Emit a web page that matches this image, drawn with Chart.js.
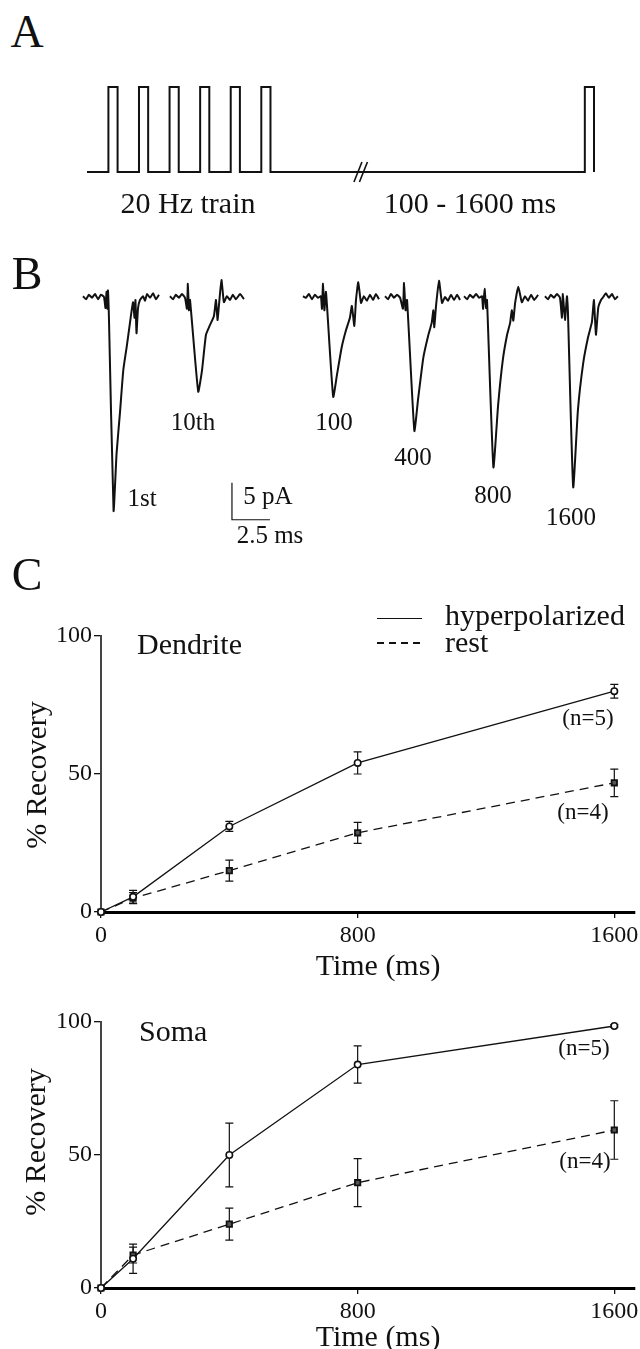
<!DOCTYPE html>
<html><head><meta charset="utf-8">
<script src="https://cdn.jsdelivr.net/npm/chart.js@4.4.1/dist/chart.umd.min.js"></script>
<style>
html,body{margin:0;padding:0;background:#fff;}
body{width:640px;height:1349px;position:relative;overflow:hidden;font-family:"Liberation Serif","Times New Roman",serif;color:#111;}
canvas{position:absolute;left:0;}
.t{position:absolute;transform:translate(-50%,-50%);white-space:nowrap;line-height:1;}
.l{position:absolute;transform:translate(0,-50%);white-space:nowrap;line-height:1;}
.r{position:absolute;transform:translate(-50%,-50%) rotate(-90deg);white-space:nowrap;line-height:1;font-size:30px;}
.big{font-size:46px;}
.f30{font-size:30px;}
.f25{font-size:25px;}
.f23{font-size:23px;}
</style></head><body>

<canvas id="cA" width="640" height="170" style="top:60px"></canvas>
<canvas id="cB" width="640" height="320" style="top:240px"></canvas>
<canvas id="cD" width="640" height="400" style="top:590px"></canvas>
<canvas id="cS" width="640" height="359" style="top:990px"></canvas>

<div class="t big" style="left:27px;top:32px">A</div>
<div class="t big" style="left:27px;top:274px">B</div>
<div class="t big" style="left:27px;top:575px">C</div>

<div class="t f30" style="left:188px;top:203px">20 Hz train</div>
<div class="t f30" style="left:470px;top:203px">100 - 1600 ms</div>

<div class="t f25" style="left:142px;top:497px">1st</div>
<div class="t f25" style="left:193px;top:421px">10th</div>
<div class="t f25" style="left:334px;top:421px">100</div>
<div class="t f25" style="left:413px;top:456px">400</div>
<div class="t f25" style="left:493px;top:494px">800</div>
<div class="t f25" style="left:571px;top:516px">1600</div>
<div class="t f25" style="left:268px;top:495px">5 pA</div>
<div class="t f25" style="left:270px;top:534px">2.5 ms</div>

<div class="l f30" style="left:137px;top:644px">Dendrite</div>
<div style="position:absolute;left:377px;top:618px;width:45px;height:0;border-top:1.5px solid #111"></div>
<div style="position:absolute;left:377px;top:642px;width:45px;height:1.5px;background:repeating-linear-gradient(90deg,#111 0 7px,transparent 7px 12px)"></div>
<div class="l f30" style="left:445px;top:615px">hyperpolarized</div>
<div class="l f30" style="left:445px;top:642px">rest</div>
<div class="r" style="left:36px;top:775px">% Recovery</div>
<div class="t f30" style="left:378px;top:965px">Time (ms)</div>
<div class="t f23" style="left:588px;top:717px">(n=5)</div>
<div class="t f23" style="left:583px;top:811px">(n=4)</div>

<div class="l f30" style="left:139px;top:1031px">Soma</div>
<div class="r" style="left:35px;top:1142px">% Recovery</div>
<div class="t f30" style="left:378px;top:1336px">Time (ms)</div>
<div class="t f23" style="left:584px;top:1047px">(n=5)</div>
<div class="t f23" style="left:585px;top:1160px">(n=4)</div>

<script>
// ---------- Panel A: stimulus protocol (schematic, ms) ----------
const trainPulseStarts = [0, 50, 100, 150, 200, 250];
const testPulseStart = 779;
const pulseWidth = 15;
const protocolStart = -35;
const gapBreakAt = 408;

// ---------- Panel B: EPSC traces (time ms, current pA) ----------
const traceStartMs = [0, 5.72, 14.47, 19.87, 25.07, 30.39];
const trace1st = [[0,0.1],[0.2,-0.3],[0.39,0.3],[0.59,-0.1],[0.79,0.4],[0.99,-0.3],[1.18,0.3],[1.38,0],[1.48,-1.5],[1.55,0.7],[1.61,-1.6],[1.64,0.9],[1.71,-3.1],[2.01,-28.9],[2.21,-21.1],[2.43,-15.7],[2.65,-9.9],[2.87,-6.8],[3.09,-3.5],[3.29,-0.7],[3.39,-2.8],[3.45,-0.4],[3.52,-4.9],[3.62,-1.5],[3.75,-0.4],[3.95,0.1],[4.08,-0.5],[4.21,0.4],[4.41,-0.1],[4.61,0.5],[4.8,-0.3],[5.0,0.3]];
const trace10th = [[0,0.1],[0.2,-0.3],[0.39,0.3],[0.59,-0.1],[0.79,0.4],[0.99,-0.1],[1.12,-1.6],[1.18,1.8],[1.25,-1.8],[1.32,-0.4],[1.86,-12.8],[2.11,-9.9],[2.37,-5.1],[2.63,-3.8],[2.89,-2.6],[3.03,-0.4],[3.13,-3.1],[3.22,-1.2],[3.39,2.3],[3.55,-0.7],[3.75,0.1],[3.95,-0.4],[4.14,0.3],[4.34,-0.3],[4.61,0.4],[4.87,-0.3]];
const trace100 = [[0,0.1],[0.2,-0.1],[0.39,0.4],[0.59,-0.3],[0.79,0.3],[0.99,-0.1],[1.18,0.1],[1.25,-1.6],[1.32,1.8],[1.41,-1.8],[1.51,0.7],[1.58,-1.1],[1.99,-13.5],[2.24,-10.5],[2.55,-6.8],[2.83,-4.5],[3.09,-2.8],[3.22,-1.2],[3.38,-3.9],[3.49,-0.4],[3.64,2.0],[3.82,-0.8],[4.01,0.1],[4.21,-0.5],[4.41,0.3],[4.61,-0.4],[4.8,0.4],[5.0,-0.3]];
const trace400 = [[0,0.1],[0.2,-0.3],[0.39,0.4],[0.59,-0.1],[0.79,0.3],[0.99,-0.1],[1.18,-1.6],[1.25,1.9],[1.35,-1.8],[1.45,-0.4],[1.93,-18.1],[2.17,-13.9],[2.52,-8.2],[2.83,-5.3],[3.07,-3.5],[3.18,-1.8],[3.24,-4.1],[3.36,-1.1],[3.55,2.2],[3.75,-0.8],[3.95,0],[4.14,-0.5],[4.34,0.3],[4.54,-0.4],[4.74,0.3],[4.93,-0.4]];
const trace800 = [[0,0.1],[0.2,-0.3],[0.39,0.3],[0.59,-0.1],[0.79,0.4],[0.99,-0.1],[1.18,0.1],[1.25,-1.6],[1.35,1.1],[1.45,-1.5],[1.51,-0.4],[1.93,-23.0],[2.24,-14.6],[2.55,-8.5],[2.83,-5.1],[3.03,-3.5],[3.14,-1.8],[3.24,-3.2],[3.36,-0.8],[3.57,1.4],[3.8,-0.7],[4.01,0.1],[4.21,-0.5],[4.41,0.3],[4.61,-0.4],[4.87,0.3]];
const trace1600 = [[0,0.1],[0.2,-0.3],[0.39,0.3],[0.59,-0.1],[0.79,0.4],[0.99,-0.1],[1.12,-2.8],[1.18,0.4],[1.32,-3.1],[1.45,0.1],[1.51,-1.8],[1.86,-25.7],[2.17,-15.3],[2.52,-8.9],[2.83,-5.5],[3.09,-3.4],[3.22,-0.4],[3.29,-2.8],[3.36,-5.1],[3.51,-1.4],[3.69,-0.4],[3.84,0],[4.01,0.5],[4.21,-0.1],[4.41,0.4],[4.61,-0.3],[4.8,0.1]];
const scaleBarOrigin = [9.8, -30.1];
const scaleBarMs = 2.5;
const scaleBarPA = 5;

// ---------- Panel C: % recovery ----------
const recoveryTimes = [0, 100, 400, 800, 1600];
const xTicks = [0, 800, 1600];
const yTicks = [0, 50, 100];
const dendriteHyper = [0, 5.5, 31, 54, 80];
const dendriteHyperErr = [0, 2.3, 1.8, 4, 2.5];
const dendriteRest = [0, 5, 15, 28.7, 46.8];
const dendriteRestErr = [0, 2, 3.8, 3.8, 5];
const somaHyper = [0, 11, 50, 84, 98.5];
const somaHyperErr = [0, 5.5, 12, 7, 0.5];
const somaRest = [0, 12.4, 24, 39.6, 59.4];
const somaRestErr = [0, 3, 6, 9, 11];

const FONT = '"Liberation Serif","Times New Roman",serif';
const INK = '#111';

// ===== Panel A =====
const protocol = [{x: protocolStart, y: 0}];
trainPulseStarts.concat([testPulseStart]).forEach(s => {
  protocol.push({x: s, y: 0}, {x: s, y: 1}, {x: s + pulseWidth, y: 1}, {x: s + pulseWidth, y: 0});
});
const breakMark = {
  id: 'breakMark',
  afterDatasetsDraw(chart) {
    const ctx = chart.ctx, xs = chart.scales.x, ys = chart.scales.y;
    const px = xs.getPixelForValue(gapBreakAt), py = ys.getPixelForValue(0);
    ctx.save(); ctx.strokeStyle = INK; ctx.lineWidth = 1.6;
    [0, 5.5].forEach(o => {
      ctx.beginPath(); ctx.moveTo(px + o - 4, py + 10); ctx.lineTo(px + o + 4, py - 10); ctx.stroke();
    });
    ctx.restore();
  }
};
new Chart(document.getElementById('cA'), {
  type: 'line',
  data: {datasets: [{data: protocol, borderColor: INK, borderWidth: 2, pointRadius: 0, tension: 0, clip: false}]},
  options: {
    responsive: false, animation: false, events: [],
    layout: {padding: {left: 87, right: 46, top: 27, bottom: 58}},
    plugins: {legend: {display: false}, tooltip: {enabled: false}},
    scales: {
      x: {type: 'linear', display: false, min: protocolStart, max: testPulseStart + pulseWidth},
      y: {display: false, min: 0, max: 1}
    }
  },
  plugins: [breakMark]
});

// ===== Panel B =====
const traces = [trace1st, trace10th, trace100, trace400, trace800, trace1600];
const bSets = traces.map((tr, k) => ({
  data: tr.map(p => ({x: p[0] + traceStartMs[k], y: p[1]})),
  borderColor: INK, borderWidth: 2, pointRadius: 0, tension: 0.15, clip: false
}));
bSets.push({
  data: [
    {x: scaleBarOrigin[0], y: scaleBarOrigin[1] + scaleBarPA},
    {x: scaleBarOrigin[0], y: scaleBarOrigin[1]},
    {x: scaleBarOrigin[0] + scaleBarMs, y: scaleBarOrigin[1]}
  ],
  borderColor: INK, borderWidth: 1.2, pointRadius: 0, tension: 0, clip: false
});
new Chart(document.getElementById('cB'), {
  type: 'line',
  data: {datasets: bSets},
  options: {
    responsive: false, animation: false, events: [],
    layout: {padding: {left: 83, right: 9.8, top: 27.4, bottom: 26.2}},
    plugins: {legend: {display: false}, tooltip: {enabled: false}},
    scales: {
      x: {type: 'linear', display: false, min: 0, max: 36},
      y: {display: false, min: -32, max: 4}
    }
  }
});

// ===== Panel C =====
const errorBars = {
  id: 'errorBars',
  beforeDatasetsDraw(chart) {
    const ctx = chart.ctx, xs = chart.scales.x, ys = chart.scales.y;
    ctx.save(); ctx.strokeStyle = INK; ctx.lineWidth = 1.2;
    chart.data.datasets.forEach(ds => {
      ds.data.forEach((p, i) => {
        const e = ds.err[i]; if (!e) return;
        const px = xs.getPixelForValue(p.x), t = ys.getPixelForValue(p.y + e), b = ys.getPixelForValue(p.y - e);
        ctx.beginPath();
        ctx.moveTo(px, t); ctx.lineTo(px, b);
        ctx.moveTo(px - 4, t); ctx.lineTo(px + 4, t);
        ctx.moveTo(px - 4, b); ctx.lineTo(px + 4, b);
        ctx.stroke();
      });
    });
    ctx.restore();
  }
};
function recoveryChart(id, hyper, hyperErr, rest, restErr, padTop, xScaleH) {
  return new Chart(document.getElementById(id), {
    type: 'line',
    data: {datasets: [
      {label: 'hyperpolarized', data: recoveryTimes.map((t, i) => ({x: t, y: hyper[i]})), err: hyperErr,
       borderColor: INK, borderWidth: 1.3, tension: 0, clip: false,
       pointStyle: 'circle', pointRadius: 3.2, pointBackgroundColor: '#fff', pointBorderColor: INK, pointBorderWidth: 1.6},
      {label: 'rest', data: recoveryTimes.map((t, i) => ({x: t, y: rest[i]})), err: restErr,
       borderColor: INK, borderWidth: 1.3, borderDash: [9, 6], tension: 0, clip: false,
       pointStyle: 'rect', pointRadius: 3.8, pointBackgroundColor: '#555', pointBorderColor: INK, pointBorderWidth: 1.8}
    ]},
    options: {
      responsive: false, animation: false, events: [],
      layout: {padding: {top: padTop, right: 2, left: 0, bottom: 0}},
      plugins: {legend: {display: false}, tooltip: {enabled: false}},
      scales: {
        x: {type: 'linear', min: 0, max: 1662,
            afterBuildTicks: s => { s.ticks = xTicks.map(v => ({value: v})); },
            ticks: {font: {family: FONT, size: 24}, color: INK, padding: 3, maxRotation: 0, autoSkip: false,
                    callback: v => String(v)},
            grid: {display: true, drawOnChartArea: false, drawTicks: true, tickLength: 6, color: INK, lineWidth: 1.3},
            border: {display: true, color: '#000', width: 3},
            afterFit: s => { s.height = xScaleH; s.paddingLeft = 0; s.paddingRight = 0; }},
        y: {type: 'linear', min: 0, max: 100,
            afterBuildTicks: s => { s.ticks = yTicks.map(v => ({value: v})); },
            ticks: {font: {family: FONT, size: 24}, color: INK, padding: 2, autoSkip: false,
                    callback: v => String(v)},
            grid: {display: true, drawOnChartArea: false, drawTicks: true, tickLength: 7, color: INK, lineWidth: 1.3},
            border: {display: true, color: '#444', width: 2},
            afterFit: s => { s.width = 101; s.paddingTop = 0; s.paddingBottom = 0; }}
      }
    },
    plugins: [errorBars]
  });
}
recoveryChart('cD', dendriteHyper, dendriteHyperErr, dendriteRest, dendriteRestErr, 46, 78);
recoveryChart('cS', somaHyper, somaHyperErr, somaRest, somaRestErr, 32, 61);
</script>
</body></html>
